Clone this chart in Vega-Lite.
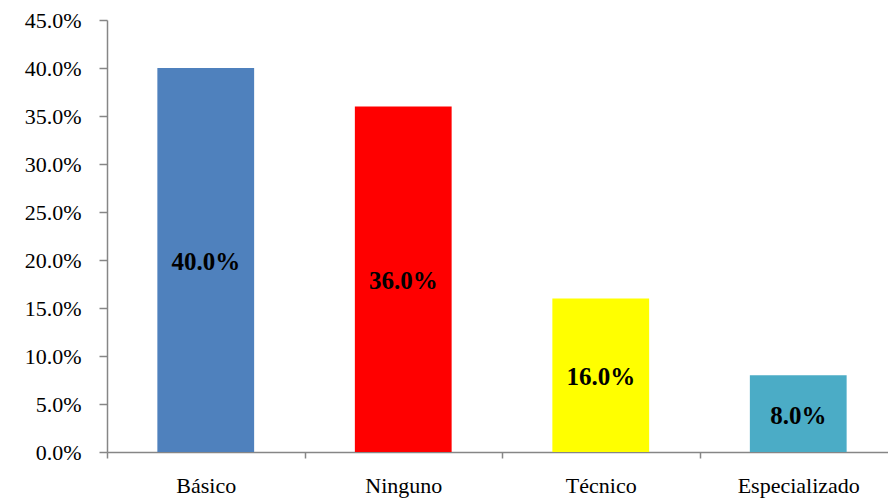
{
  "$schema": "https://vega.github.io/schema/vega-lite/v6.json",
  "autosize": {"type": "none"},
  "width": 790,
  "height": 432,
  "padding": {"left": 107, "top": 20, "right": 0, "bottom": 50},
  "background": "white",
  "config": {"view": {"stroke": null}, "font": "Liberation Serif"},
  "data": {
    "values": [
      {"nivel": "Básico", "pct": 0.40, "color": "#4F81BD"},
      {"nivel": "Ninguno", "pct": 0.36, "color": "#FF0000"},
      {"nivel": "Técnico", "pct": 0.16, "color": "#FFFF00"},
      {"nivel": "Especializado", "pct": 0.08, "color": "#4BACC6"}
    ]
  },
  "encoding": {
    "x": {
      "field": "nivel",
      "type": "nominal",
      "sort": null,
      "scale": {"paddingInner": 0, "paddingOuter": 0},
      "axis": {
        "title": null,
        "labelAngle": 0,
        "labelFont": "Liberation Serif",
        "labelFontSize": 22,
        "labelColor": "black",
        "labelPadding": 17,
        "domainColor": "#868686",
        "domainWidth": 1.5,
        "tickColor": "#868686",
        "tickSize": 6,
        "tickWidth": 1.5,
        "tickBand": "extent"
      }
    }
  },
  "layer": [
    {
      "mark": {"type": "bar", "width": {"band": 0.49}},
      "encoding": {
        "y": {
          "field": "pct",
          "type": "quantitative",
          "scale": {"domain": [0, 0.45]},
          "axis": {
            "title": null,
            "format": ".1%",
            "values": [0, 0.05, 0.1, 0.15, 0.2, 0.25, 0.3, 0.35, 0.4, 0.45],
            "grid": false,
            "labelFont": "Liberation Serif",
            "labelFontSize": 22,
            "labelColor": "black",
            "labelPadding": 18,
            "domainColor": "#868686",
            "domainWidth": 1.5,
            "tickColor": "#868686",
            "tickSize": 8,
            "tickWidth": 1.5
          }
        },
        "color": {"field": "color", "type": "nominal", "scale": null}
      }
    },
    {
      "transform": [{"calculate": "datum.pct / 2", "as": "mid"}],
      "mark": {"type": "text", "font": "Liberation Serif", "fontSize": 25, "fontWeight": "bold", "color": "black", "baseline": "middle", "dy": 2},
      "encoding": {
        "y": {"field": "mid", "type": "quantitative", "scale": {"domain": [0, 0.45]}},
        "text": {"field": "pct", "type": "quantitative", "format": ".1%"}
      }
    }
  ]
}
